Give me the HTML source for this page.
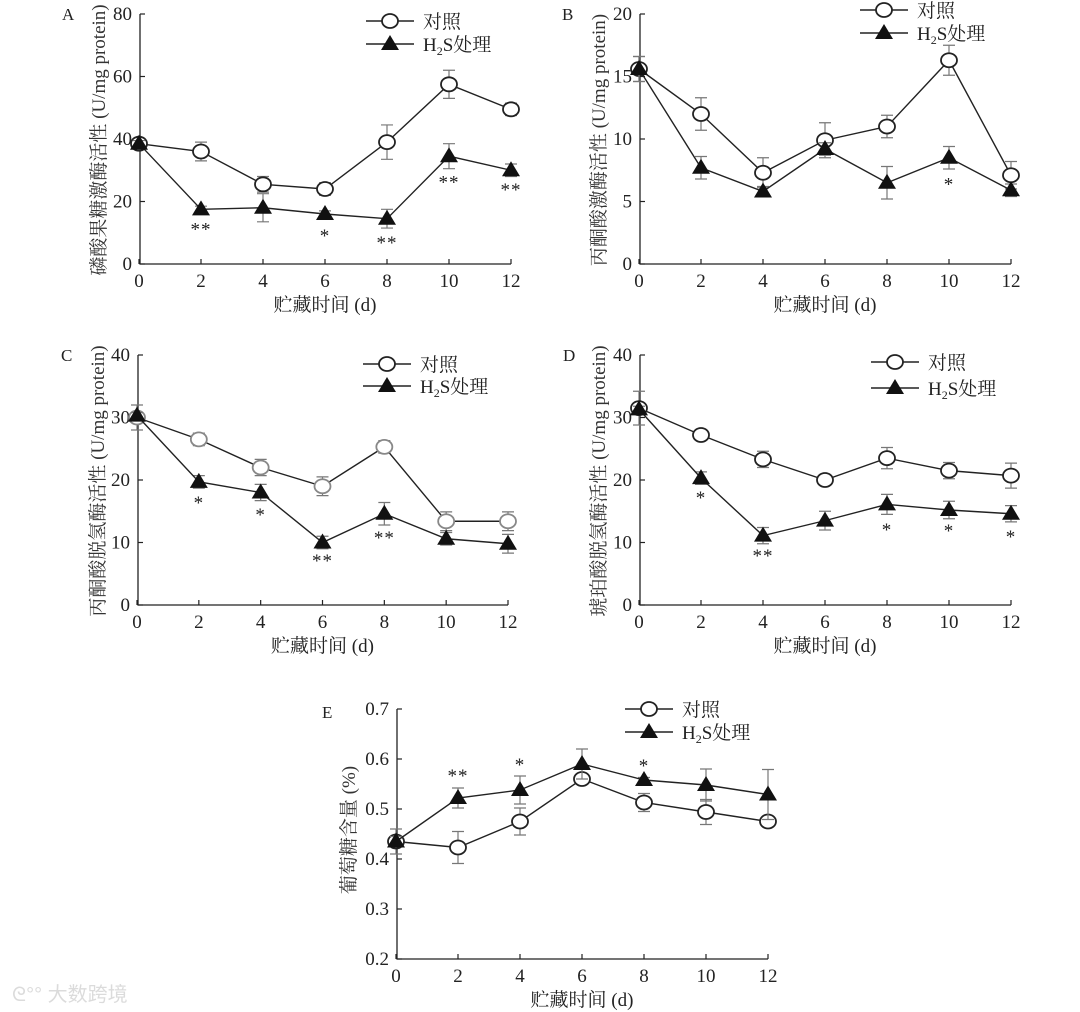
<!DOCTYPE html>
<html><head><meta charset="utf-8">
<style>
html,body{margin:0;padding:0;background:#fff;}
svg{display:block;font-family:"Liberation Serif","Noto Serif CJK SC","Noto Sans CJK SC",serif;}
</style></head>
<body>
<svg id="chart" width="1080" height="1012" viewBox="0 0 1080 1012" xmlns="http://www.w3.org/2000/svg">
<g opacity="0.35">
<text x="12" y="1001" font-size="20" fill="#999" font-family="Liberation Sans, Noto Sans CJK SC, sans-serif">ᘓ°° 大数跨境</text>
</g>
</svg>
<script>
const days = [0, 2, 4, 6, 8, 10, 12];
const xTicks = ["0", "2", "4", "6", "8", "10", "12"];

const aCtrl = [38.5, 36, 25.5, 24, 39, 57.5, 49.5];
const aCtrlErr = [1, 3, 2.5, 2, 5.5, 4.5, 2];
const aH2S = [38.5, 17.5, 18, 16, 14.5, 34.5, 30];
const aH2SErr = [1, 1, 4.5, 1, 3, 4, 2];
const aStars = ["", "**", "", "*", "**", "**", "**"];
const aStarY = [0, 12, 0, 10, 7.7, 27, 24.6];
const aYTicks = [0, 20, 40, 60, 80];

const bCtrl = [15.6, 12, 7.3, 9.9, 11, 16.3, 7.1];
const bCtrlErr = [1, 1.3, 1.2, 1.4, 0.9, 1.2, 1.1];
const bH2S = [15.6, 7.7, 5.8, 9.2, 6.5, 8.5, 5.9];
const bH2SErr = [1, 0.9, 0.4, 0.5, 1.3, 0.9, 0.5];
const bStars = ["", "", "", "", "", "*", ""];
const bStarY = [0, 0, 0, 0, 0, 6.6, 0];
const bYTicks = [0, 5, 10, 15, 20];

const cCtrl = [30, 26.5, 22, 19, 25.3, 13.4, 13.4];
const cCtrlErr = [2, 1, 1.3, 1.5, 1, 1.5, 1.5];
const cH2S = [30.3, 19.7, 18, 10, 14.6, 10.6, 9.8];
const cH2SErr = [0.5, 1, 1.3, 1, 1.8, 1, 1.5];
const cStars = ["", "*", "*", "**", "**", "", ""];
const cStarY = [0, 16.8, 14.9, 7.5, 11.2, 0, 0];
const cYTicks = [0, 10, 20, 30, 40];

const dCtrl = [31.5, 27.2, 23.3, 20, 23.5, 21.5, 20.7];
const dCtrlErr = [2.7, 0.5, 1.3, 0.5, 1.7, 1.3, 2];
const dH2S = [31.3, 20.3, 11.1, 13.5, 16.1, 15.2, 14.6];
const dH2SErr = [0.5, 1, 1.3, 1.5, 1.6, 1.4, 1.3];
const dStars = ["", "*", "**", "", "*", "*", "*"];
const dStarY = [0, 17.6, 8.3, 0, 12.5, 12.3, 11.4];
const dYTicks = [0, 10, 20, 30, 40];

const eCtrl = [0.435, 0.423, 0.475, 0.56, 0.513, 0.494, 0.475];
const eCtrlErr = [0.025, 0.032, 0.027, 0.005, 0.018, 0.025, 0.01];
const eH2S = [0.435, 0.522, 0.538, 0.59, 0.558, 0.548, 0.529];
const eH2SErr = [0.01, 0.02, 0.028, 0.03, 0.005, 0.032, 0.05];
const eStars = ["", "**", "*", "", "*", "", ""];
const eStarY = [0, 0.572, 0.594, 0, 0.592, 0, 0];
const eYTicks = [0.2, 0.3, 0.4, 0.5, 0.6, 0.7];

const NS = "http://www.w3.org/2000/svg";
const svg = document.getElementById("chart");
function mk(tag, attrs, parent, text) {
  const e = document.createElementNS(NS, tag);
  for (const k in attrs) e.setAttribute(k, attrs[k]);
  if (text !== undefined) e.textContent = text;
  parent.appendChild(e);
  return e;
}

function panel(cfg) {
  const g = mk("g", {}, svg);
  
  
  const sx = v => cfg.x0 + (v - 0) / 12 * (cfg.x1 - cfg.x0);
  const sy = v => cfg.yb - (v - cfg.ymin) / (cfg.ymax - cfg.ymin) * (cfg.yb - cfg.yt);
  const ax = cfg.x0 + 1;
  const axes = mk("path", {d: `M${ax} ${cfg.yt} V${cfg.yb} H${cfg.x1}`, stroke: "#222", "stroke-width": 1.3, fill: "none"}, g);
  
  
  cfg.yticks.forEach(t => {
    const y = sy(t);
    mk("line", {x1: ax, x2: ax + 5, y1: y, y2: y, stroke: "#222", "stroke-width": 1.2}, g);
    const lbl = mk("text", {x: ax - 8, y: y + 6, "font-size": 19, "text-anchor": "end", fill: "#222"}, g, cfg.ylabFmt ? t.toFixed(1) : String(t));
    
    
  });
  days.forEach((d, i) => {
    const x = sx(d);
    mk("line", {x1: x, x2: x, y1: cfg.yb, y2: cfg.yb - 5, stroke: "#222", "stroke-width": 1.2}, g);
    const lbl = mk("text", {x: x, y: cfg.yb + 23, "font-size": 19, "text-anchor": "middle", fill: "#222"}, g, xTicks[i]);
    
    
  });
  const xt = mk("text", {x: (cfg.x0 + cfg.x1) / 2, y: cfg.yb + 47, "font-size": 19, "text-anchor": "middle", fill: "#222"}, g, "贮藏时间 (d)");
  
  
  const ymid = cfg.ymid;
  const yt = mk("text", {x: cfg.ylx, y: ymid, "font-size": 19, "text-anchor": "middle", fill: "#333", transform: `rotate(-90 ${cfg.ylx} ${ymid})`}, g, cfg.ytitle);
  
  
  const pl = mk("text", {x: cfg.lx, y: cfg.ly, "font-size": 17, fill: "#222"}, g, cfg.id);
  
  

  function series(vals, errs, kind, color) {
    const sg = mk("g", {}, g);
    
    
    vals.forEach((v, i) => {
      const x = sx(days[i]), y1 = sy(v + errs[i]), y2 = sy(v - errs[i]);
      const eb = mk("path", {d: `M${x} ${y1} V${y2} M${x-6} ${y1} H${x+6} M${x-6} ${y2} H${x+6}`, stroke: "#777", "stroke-width": 1.2, fill: "none"}, sg);
      
      
    });
    const pts = vals.map((v, i) => `${sx(days[i])},${sy(v)}`).join(" ");
    const ln = mk("polyline", {points: pts, fill: "none", stroke: "#222", "stroke-width": 1.4}, sg);
    
    
    vals.forEach((v, i) => {
      const x = sx(days[i]), y = sy(v);
      let m;
      if (kind === "circle") m = mk("ellipse", {cx: x, cy: y, rx: 8, ry: 7, fill: "#fff", stroke: color, "stroke-width": 1.8}, sg);
      else m = mk("path", {d: `M${x} ${y-9} L${x+9} ${y+6} L${x-9} ${y+6} Z`, fill: "#111"}, sg);
      
      
    });
  }
  series(cfg.ctrl, cfg.ctrlErr, "circle", cfg.ctrlColor || "#222");
  series(cfg.h2s, cfg.h2sErr, "tri");
  cfg.stars.forEach((s, i) => {
    if (!s) return;
    const st = mk("text", {x: sx(days[i]), y: sy(cfg.starY[i]) + 9, "font-size": 19, "text-anchor": "middle", fill: "#222", "letter-spacing": "1"}, g, s);
    
    
  });
  const lg = mk("g", {}, g);
  
  
  const L = cfg.leg;
  mk("line", {x1: L.x, x2: L.x + 48, y1: L.y, y2: L.y, stroke: "#222", "stroke-width": 1.4}, lg);
  mk("ellipse", {cx: L.x + 24, cy: L.y, rx: 8, ry: 7, fill: "#fff", stroke: "#222", "stroke-width": 1.8}, lg);
  const t1 = mk("text", {x: L.x + 57, y: L.y + 7, "font-size": 19, fill: "#222"}, lg, "对照");
  
  
  const y2 = L.y + L.dy;
  mk("line", {x1: L.x, x2: L.x + 48, y1: y2, y2: y2, stroke: "#222", "stroke-width": 1.4}, lg);
  mk("path", {d: `M${L.x+24} ${y2-9} L${L.x+33} ${y2+6} L${L.x+15} ${y2+6} Z`, fill: "#111"}, lg);
  const t2 = mk("text", {x: L.x + 57, y: y2 + 7, "font-size": 19, fill: "#222"}, lg);
  
  
  mk("tspan", {}, t2, "H");
  mk("tspan", {"font-size": 12, dy: 4}, t2, "2");
  mk("tspan", {dy: -4}, t2, "S处理");
}

panel({id: "A", x0: 139, x1: 511, yt: 14, yb: 264, ymin: 0, ymax: 80, yticks: aYTicks, ctrl: aCtrl, ctrlErr: aCtrlErr, h2s: aH2S, h2sErr: aH2SErr, stars: aStars, starY: aStarY, ytitle: "磷酸果糖激酶活性 (U/mg protein)", ylx: 105, ymid: 140, lx: 62, ly: 20, leg: {x: 366, y: 21, dy: 23}});
panel({id: "B", x0: 639, x1: 1011, yt: 14, yb: 264, ymin: 0, ymax: 20, yticks: bYTicks, ctrl: bCtrl, ctrlErr: bCtrlErr, h2s: bH2S, h2sErr: bH2SErr, stars: bStars, starY: bStarY, ytitle: "丙酮酸激酶活性 (U/mg protein)", ylx: 605, ymid: 140, lx: 562, ly: 20, leg: {x: 860, y: 10, dy: 23}});
panel({id: "C", x0: 137, x1: 508, yt: 355, yb: 605, ymin: 0, ymax: 40, yticks: cYTicks, ctrl: cCtrl, ctrlErr: cCtrlErr, h2s: cH2S, h2sErr: cH2SErr, stars: cStars, starY: cStarY, ctrlColor: "#888", ytitle: "丙酮酸脱氢酶活性 (U/mg protein)", ylx: 104, ymid: 481, lx: 61, ly: 361, leg: {x: 363, y: 364, dy: 22}});
panel({id: "D", x0: 639, x1: 1011, yt: 355, yb: 605, ymin: 0, ymax: 40, yticks: dYTicks, ctrl: dCtrl, ctrlErr: dCtrlErr, h2s: dH2S, h2sErr: dH2SErr, stars: dStars, starY: dStarY, ytitle: "琥珀酸脱氢酶活性 (U/mg protein)", ylx: 605, ymid: 481, lx: 563, ly: 361, leg: {x: 871, y: 362, dy: 26}});
panel({id: "E", x0: 396, x1: 768, yt: 709, yb: 959, ymin: 0.2, ymax: 0.7, yticks: eYTicks, ylabFmt: true, ctrl: eCtrl, ctrlErr: eCtrlErr, h2s: eH2S, h2sErr: eH2SErr, stars: eStars, starY: eStarY, ytitle: "葡萄糖含量 (%)", ylx: 355, ymid: 830, lx: 322, ly: 718, leg: {x: 625, y: 709, dy: 23}});
</script>
</body></html>
